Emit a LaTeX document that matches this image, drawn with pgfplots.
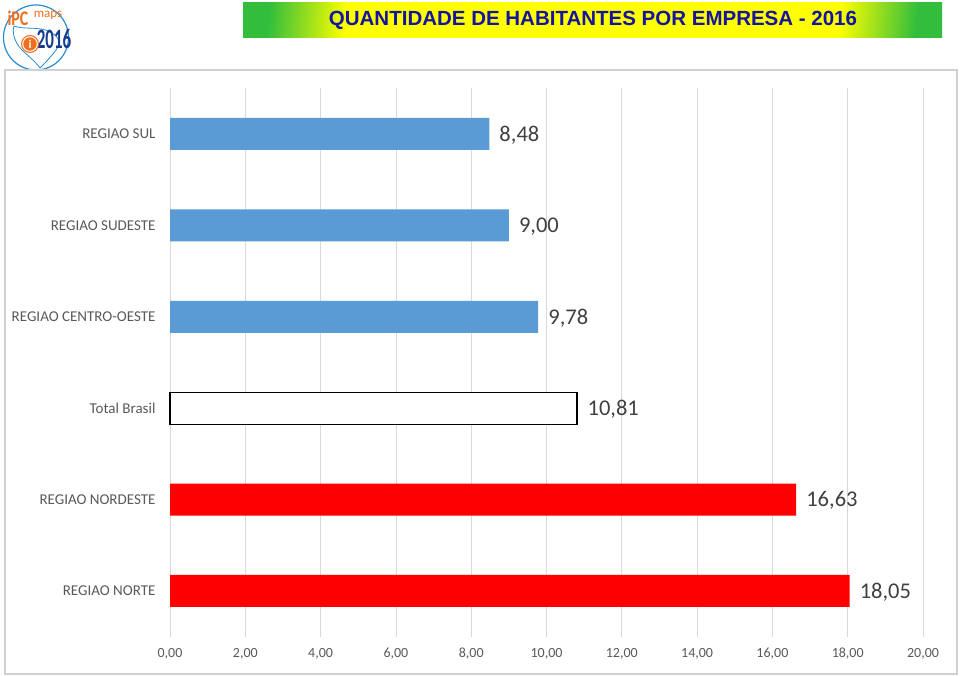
\documentclass[border=0pt]{standalone}
\usepackage{pgfplots}
\pgfplotsset{compat=1.18}
\usepackage{fontspec}
\setmainfont{Carlito}
\newfontfamily\arialf{Liberation Sans}
\definecolor{barblue}{HTML}{5B9BD5}
\definecolor{barred}{HTML}{FF0000}
\definecolor{titleblue}{RGB}{20,20,160}
\definecolor{gridgray}{HTML}{D9D9D9}
\definecolor{framegray}{HTML}{D0D0D0}
\definecolor{ticktext}{HTML}{595959}
\definecolor{valtext}{HTML}{404040}
\definecolor{bgreen}{RGB}{50,190,60}
\definecolor{byellow}{RGB}{255,255,0}
\definecolor{logoblue}{RGB}{40,140,210}
\definecolor{logoorange}{RGB}{240,110,30}
\definecolor{logodark}{RGB}{20,60,140}
\pgfdeclarehorizontalshading{banner}{100bp}{color(0bp)=(bgreen); color(25bp)=(bgreen); color(31bp)=(byellow); color(69bp)=(byellow); color(75bp)=(bgreen); color(100bp)=(bgreen)}
\begin{document}
\begin{tikzpicture}
\path (0pt,0pt) rectangle (960pt,676pt);
\begin{scope}[x=1pt,y=1pt]
% title banner
\shade[shading=banner, shading angle=-5] (243,638) rectangle (942,673);
\node[font=\arialf\bfseries\fontsize{20.5}{24}\selectfont, text=titleblue] at (593,655.5) {QUANTIDADE DE HABITANTES POR EMPRESA - 2016};
% logo
\draw[logoblue, line width=1.2pt] (36,638.5) circle (32.5);
\draw[logoblue, line width=0.8pt] (14,650) .. controls (24,646) and (40,650) .. (50,644) .. controls (58,640) and (62,634) .. (56,626) .. controls (50,618) and (44,612) .. (40,608) .. controls (36,614) and (28,620) .. (22,626) .. controls (14,634) and (12,644) .. (14,650);
\node[font=\bfseries\fontsize{16}{17}\selectfont, text=logoorange, inner sep=0, yscale=1.3] at (18,658) {iPC};
\node[font=\fontsize{13}{14}\selectfont, text=logoorange, inner sep=0] at (48,660.5) {maps};
\node[font=\bfseries\fontsize{17}{18}\selectfont, text=logodark, inner sep=0, yscale=1.65] at (54,637) {2016};
\fill[logoorange] (30,632) circle (9);
\draw[white, line width=1pt] (30,632) circle (7.3);
\node[font=\bfseries\fontsize{12}{12}\selectfont, text=white, inner sep=0] at (30,632) {i};
% chart frame
\draw[framegray, line width=1.2pt] (5,2) rectangle (957,606);
\end{scope}
\begin{axis}[
  at={(170pt,39.3pt)}, anchor=south west,
  scale only axis, width=753pt, height=548.4pt,
  xbar, bar width=32pt, bar shift=0pt,
  xmin=0, xmax=20, ymin=-0.5, ymax=5.5,
  xtick={0,2,...,20},
  ytick={0,1,2,3,4,5},
  yticklabels={REGIAO NORTE, REGIAO NORDESTE, Total Brasil, REGIAO CENTRO-OESTE, REGIAO SUDESTE, REGIAO SUL},
  xmajorgrids, grid style={gridgray, line width=0.8pt},
  axis line style={draw=none},
  major tick length=0pt,
  clip=false,
  /pgf/number format/assume math mode=true,
  xticklabel style={font=\fontsize{14}{16}\selectfont, text=ticktext, yshift=-8pt,
    /pgf/number format/.cd, fixed, fixed zerofill, precision=2, use comma},
  yticklabel style={font=\fontsize{15}{17}\selectfont, text=ticktext, xshift=-11pt},
  point meta=x,
  nodes near coords={\pgfmathprintnumber[fixed, fixed zerofill, precision=2, use comma]{\pgfplotspointmeta}},
  nodes near coords style={font=\fontsize{22.5}{24}\selectfont, text=valtext, anchor=west, inner sep=0pt, xshift=10pt, yshift=-1pt},
]
\addplot[fill=barblue, draw=none] coordinates {(8.48,5) (9.00,4) (9.78,3)};
\addplot[fill=white, draw=black, line width=1.2pt] coordinates {(10.81,2)};
\addplot[fill=barred, draw=none] coordinates {(16.63,1) (18.05,0)};
\end{axis}
\end{tikzpicture}
\end{document}
